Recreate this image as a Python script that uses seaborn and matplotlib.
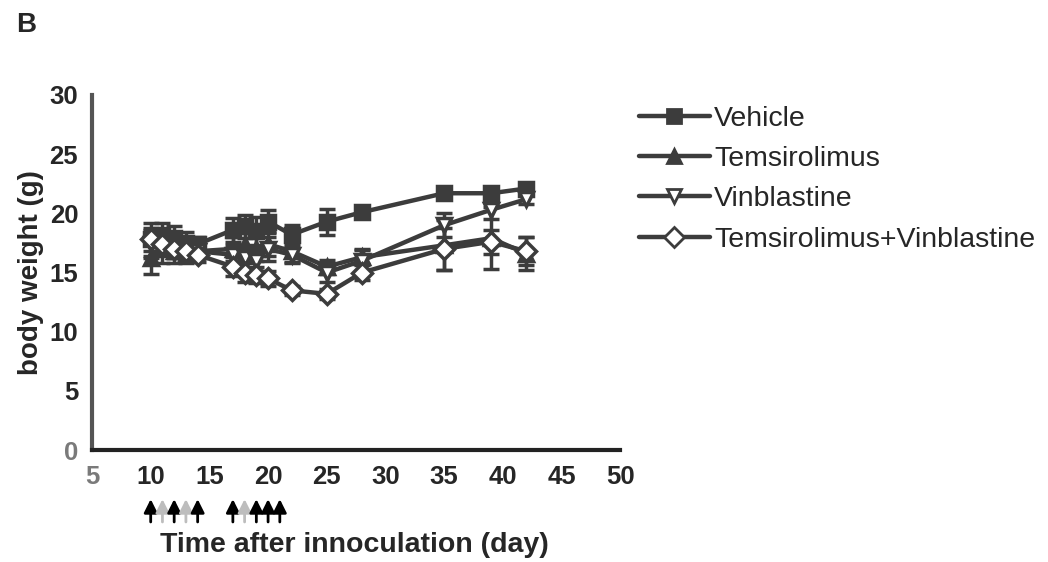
import numpy as np
import pandas as pd
import matplotlib
matplotlib.use("Agg")
import matplotlib.pyplot as plt
import seaborn as sns
from matplotlib.lines import Line2D

days = [10, 11, 12, 13, 14, 17, 18, 19, 20, 22, 25, 28, 35, 39, 42]
groups = ["Vehicle", "Temsirolimus", "Vinblastine", "Temsirolimus+Vinblastine"]
vehicle = [17.8, 18.2, 17.9, 17.5, 17.4, 18.6, 18.9, 18.5, 19.3, 18.2, 19.3, 20.1, 21.7, 21.7, 22.1]
vehicle_err = [1.4, 1.0, 1.0, 0.9, 0.6, 1.0, 1.0, 1.2, 1.0, 0.8, 1.1, 0.3, 0.3, 0.3, 0.3]
temsirolimus = [16.2, 17.0, 16.8, 16.6, 16.8, 17.0, 17.3, 17.0, 17.4, 16.8, 15.5, 16.3, 17.3, 17.9, 16.6]
temsirolimus_err = [1.3, 1.2, 1.0, 0.8, 0.6, 1.0, 1.2, 1.0, 1.0, 0.9, 0.6, 0.6, 2.1, 2.6, 1.4]
vinblastine = [17.4, 17.6, 17.2, 17.0, 16.8, 16.5, 16.2, 16.0, 17.0, 16.5, 15.0, 16.0, 19.0, 20.3, 21.2]
vinblastine_err = [1.2, 1.0, 1.0, 0.8, 0.6, 0.8, 1.0, 0.9, 1.0, 0.7, 0.8, 1.0, 1.0, 0.8, 0.4]
combo = [17.8, 17.4, 17.0, 16.8, 16.5, 15.5, 15.0, 14.8, 14.5, 13.5, 13.2, 15.0, 17.0, 17.6, 16.8]
combo_err = [1.0, 0.9, 0.8, 0.8, 0.6, 0.8, 0.8, 0.7, 0.6, 0.4, 0.4, 0.6, 1.8, 1.0, 1.2]
arrow_days = [10, 11, 12, 13, 14, 17, 18, 19, 20, 21]
arrow_faint = [False, True, False, True, False, False, True, False, False, False]
xticks = [5, 10, 15, 20, 25, 30, 35, 40, 45, 50]
yticks = [0, 5, 10, 15, 20, 25, 30]

values = [vehicle, temsirolimus, vinblastine, combo]
errors = [vehicle_err, temsirolimus_err, vinblastine_err, combo_err]
rows = []
for g, v, e in zip(groups, values, errors):
    for d, vv, ee in zip(days, v, e):
        rows.append({"day": d, "weight": vv, "err": ee, "group": g})
df = pd.DataFrame(rows)

sns.set_style("white")
plt.rcParams["font.family"] = ["Liberation Sans", "DejaVu Sans"]
col = "#3c3c3c"

fig = plt.figure(figsize=(10.48, 5.62), dpi=100)
ax = fig.add_axes([0.0878, 0.199, 0.504, 0.632])

markers = {"Vehicle": "s", "Temsirolimus": "^", "Vinblastine": "v",
           "Temsirolimus+Vinblastine": "D"}
mfc = {"Vehicle": col, "Temsirolimus": col, "Vinblastine": "white",
       "Temsirolimus+Vinblastine": "white"}

sns.lineplot(data=df, x="day", y="weight", hue="group", style="group",
             palette=[col] * 4, markers=markers, dashes=False, lw=3.2,
             markersize=10, markeredgewidth=2.5, markeredgecolor=col,
             ax=ax, legend=False, zorder=3)
inv = {v: k for k, v in markers.items()}
for line in list(ax.lines):
    m = line.get_marker()
    if m in inv:
        line.set_markerfacecolor(mfc[inv[m]])

for g in groups:
    sub = df[df.group == g]
    ax.errorbar(sub.day, sub.weight, yerr=sub.err, fmt="none", ecolor=col,
                elinewidth=2.5, capsize=6, capthick=2.5, zorder=2)

handles = [Line2D([0], [0], color=col, lw=3.2, marker=markers[g], markersize=10,
                  markerfacecolor=mfc[g], markeredgecolor=col, markeredgewidth=2)
           for g in groups]
fig.legend(handles, groups, loc="upper left", bbox_to_anchor=(0.585, 0.857),
           frameon=False, fontsize=20.5, handlelength=2.5, handletextpad=0.15,
           labelspacing=0.5)

ax.set_xlim(5, 50)
ax.set_ylim(0, 30)
ax.set_xticks(xticks)
ax.set_yticks(yticks)
ax.set_xticklabels([str(t) for t in xticks], fontsize=18.5, fontweight="bold")
ax.set_yticklabels([str(t) for t in yticks], fontsize=18.5, fontweight="bold")
ax.get_xticklabels()[0].set_color("#7a7a7a")
ax.get_yticklabels()[0].set_color("#7a7a7a")
ax.tick_params(axis="both", direction="out", length=7, width=3, color="#111111",
               pad=3)
ax.tick_params(axis="x", pad=4)
for s in ["top", "right"]:
    ax.spines[s].set_visible(False)
for s in ["left", "bottom"]:
    ax.spines[s].set_linewidth(3)
    ax.spines[s].set_color("#222222")
ax.spines["left"].set_color("#555555")
ax.set_xlabel("")
ax.set_ylabel("body weight (g)", fontsize=20, fontweight="bold", labelpad=4)

for d, faint in zip(arrow_days, arrow_faint):
    c = "#bdbdbd" if faint else "black"
    ax.annotate("", xy=(d, -0.13), xytext=(d, -0.21),
                xycoords=("data", "axes fraction"),
                textcoords=("data", "axes fraction"),
                arrowprops=dict(arrowstyle="-|>,head_width=0.4,head_length=0.8",
                                color=c, lw=2),
                annotation_clip=False)

fig.text(0.338, 0.008, "Time after innoculation (day)", fontsize=20.5,
         fontweight="bold", ha="center", va="bottom")
fig.text(0.015, 0.932, "B", fontsize=20, fontweight="bold", ha="left", va="bottom")

fig.savefig("out.png", dpi=100)
